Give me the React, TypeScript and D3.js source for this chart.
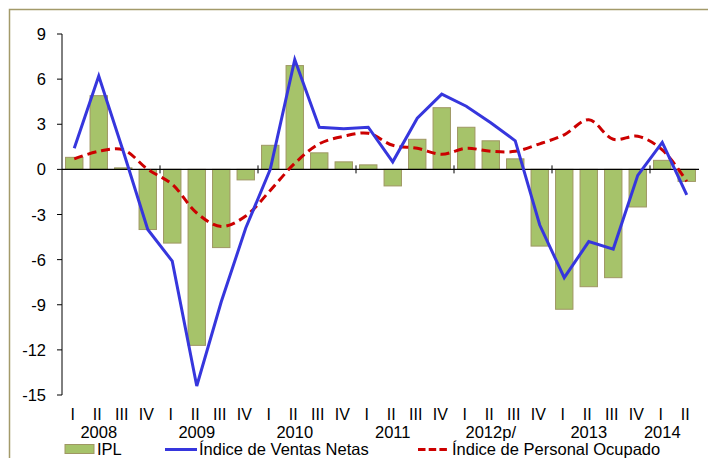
import { useEffect, useRef } from 'react';
import * as d3 from 'd3';

// Quarter labels and year groups
const quarters = ['I', 'II', 'III', 'IV', 'I', 'II', 'III', 'IV', 'I', 'II', 'III', 'IV', 'I', 'II', 'III', 'IV', 'I', 'II', 'III', 'IV', 'I', 'II', 'III', 'IV', 'I', 'II'];
const years = ['2008', '2009', '2010', '2011', '2012p/', '2013', '2014'];
const quartersPerYear = [4, 4, 4, 4, 4, 4, 2];

// Series values (annual % change)
const ipl = [0.8, 4.9, 0.1, -4.0, -4.9, -11.7, -5.2, -0.7, 1.6, 6.9, 1.1, 0.5, 0.3, -1.1, 2.0, 4.1, 2.8, 1.9, 0.7, -5.1, -9.3, -7.8, -7.2, -2.5, 0.6, -0.8];
const ventasNetas = [1.4, 6.2, 1.2, -4.0, -6.1, -14.4, -8.8, -3.9, 0.0, 7.3, 2.8, 2.7, 2.8, 0.5, 3.4, 5.0, 4.2, 3.1, 1.9, -3.7, -7.2, -4.8, -5.3, -0.4, 1.8, -1.7];
const personalOcupado = [0.7, 1.2, 1.3, 0.0, -1.0, -2.9, -3.8, -3.1, -1.4, 0.4, 1.7, 2.2, 2.4, 1.6, 1.4, 1.0, 1.4, 1.2, 1.2, 1.7, 2.3, 3.3, 2.0, 2.2, 1.3, -0.8];

const yTicks = [9, 6, 3, 0, -3, -6, -9, -12, -15];

const App = () => {
  const svgRef = useRef<SVGSVGElement>(null);

  useEffect(() => {
    const width = 708;
    const height = 458;
    const font = "'Liberation Sans', Arial, sans-serif";

    const svg = d3.select(svgRef.current)
      .attr('width', width)
      .attr('height', height)
      .style('position', 'absolute')
      .style('left', '0px')
      .style('top', '0px')
      .style('background-color', '#ffffff');

    svg.selectAll('*').remove();

    // outer frame
    svg.append('rect')
      .attr('x', 9.5).attr('y', 9.5)
      .attr('width', 720).attr('height', 470)
      .attr('fill', 'none')
      .attr('stroke', '#a39a6a')
      .attr('stroke-width', 1.5);

    const idx = quarters.map((_, i) => i);
    const x = d3.scaleBand<number>()
      .domain(idx)
      .range([62, 699])
      .padding(0);
    const bw = x.bandwidth();
    const cx = (i: number) => (x(i) as number) + bw / 2;

    const y = d3.scaleLinear()
      .domain([-15, 9])
      .range([395, 34]);

    // Bars
    const barW = bw * 0.71;
    svg.append('g')
      .selectAll('rect')
      .data(ipl)
      .enter()
      .append('rect')
      .attr('x', (d, i) => cx(i) - barW / 2)
      .attr('y', d => y(Math.max(0, d)))
      .attr('width', barW)
      .attr('height', d => Math.abs(y(d) - y(0)))
      .attr('fill', '#a6c36a')
      .attr('stroke', '#9f9763')
      .attr('stroke-width', 1);

    // Y axis
    const yAxis = svg.append('g').attr('transform', 'translate(62,0)');
    yAxis.append('line')
      .attr('x1', 0).attr('x2', 0)
      .attr('y1', y(9)).attr('y2', y(-15))
      .attr('stroke', '#000').attr('stroke-width', 1);
    yAxis.selectAll('.tick')
      .data(yTicks)
      .enter()
      .append('line')
      .attr('x1', -5).attr('x2', 0)
      .attr('y1', d => y(d)).attr('y2', d => y(d))
      .attr('stroke', '#000');
    yAxis.selectAll('.lbl')
      .data(yTicks)
      .enter()
      .append('text')
      .attr('x', -16)
      .attr('y', d => y(d) + 6)
      .attr('text-anchor', 'end')
      .style('font-family', font)
      .style('font-size', '16.5px')
      .text(d => d);

    // X axis at zero
    svg.append('line')
      .attr('x1', 62).attr('x2', 699)
      .attr('y1', y(0)).attr('y2', y(0))
      .attr('stroke', '#000').attr('stroke-width', 1.2);

    // Year boundary ticks and labels
    let start = 0;
    years.forEach((yr, k) => {
      const n = quartersPerYear[k];
      const x0 = x(start) as number;
      if (k > 0) {
        svg.append('line')
          .attr('x1', x0).attr('x2', x0)
          .attr('y1', y(0) - 4).attr('y2', y(0) + 4)
          .attr('stroke', '#000');
      }
      const groupCenter = x0 + (n * bw) / 2;
      svg.append('text')
        .attr('x', groupCenter - bw / 2)
        .attr('y', 438)
        .attr('text-anchor', 'middle')
        .style('font-family', font)
        .style('font-size', '16.5px')
        .text(yr);
      start += n;
    });

    // Quarter labels
    svg.append('g')
      .selectAll('text')
      .data(quarters)
      .enter()
      .append('text')
      .attr('x', (d, i) => cx(i) - 1.5)
      .attr('y', 420)
      .attr('text-anchor', 'middle')
      .style('font-family', font)
      .style('font-size', '16px')
      .text(d => d);

    // Personal Ocupado (smoothed dashed)
    const smooth = d3.line<number>()
      .x((d, i) => cx(i))
      .y(d => y(d))
      .curve(d3.curveCatmullRom.alpha(0.5));
    svg.append('path')
      .datum(personalOcupado)
      .attr('d', smooth)
      .attr('fill', 'none')
      .attr('stroke', '#cc0000')
      .attr('stroke-width', 3)
      .attr('stroke-dasharray', '9,5');

    // Ventas Netas
    const straight = d3.line<number>()
      .x((d, i) => cx(i))
      .y(d => y(d));
    svg.append('path')
      .datum(ventasNetas)
      .attr('d', straight)
      .attr('fill', 'none')
      .attr('stroke', '#3636dd')
      .attr('stroke-width', 3)
      .attr('stroke-linejoin', 'miter');

    // Legend
    const legend = svg.append('g');
    legend.append('rect')
      .attr('x', 65).attr('y', 444.5)
      .attr('width', 29).attr('height', 9)
      .attr('fill', '#a6c36a')
      .attr('stroke', '#9f9763');
    legend.append('text')
      .attr('x', 97).attr('y', 455)
      .style('font-family', font)
      .style('font-size', '16.5px')
      .text('IPL');
    legend.append('line')
      .attr('x1', 165).attr('x2', 197)
      .attr('y1', 449.5).attr('y2', 449.5)
      .attr('stroke', '#3636dd').attr('stroke-width', 3);
    legend.append('text')
      .attr('x', 199).attr('y', 455)
      .style('font-family', font)
      .style('font-size', '16.5px')
      .text('Índice de Ventas Netas');
    legend.append('line')
      .attr('x1', 418).attr('x2', 447)
      .attr('y1', 449.5).attr('y2', 449.5)
      .attr('stroke', '#cc0000').attr('stroke-width', 3)
      .attr('stroke-dasharray', '7.5,3.2');
    legend.append('text')
      .attr('x', 452).attr('y', 455)
      .style('font-family', font)
      .style('font-size', '16.5px')
      .text('Índice de Personal Ocupado');
  }, []);

  return <svg ref={svgRef}></svg>;
};

export default App;
